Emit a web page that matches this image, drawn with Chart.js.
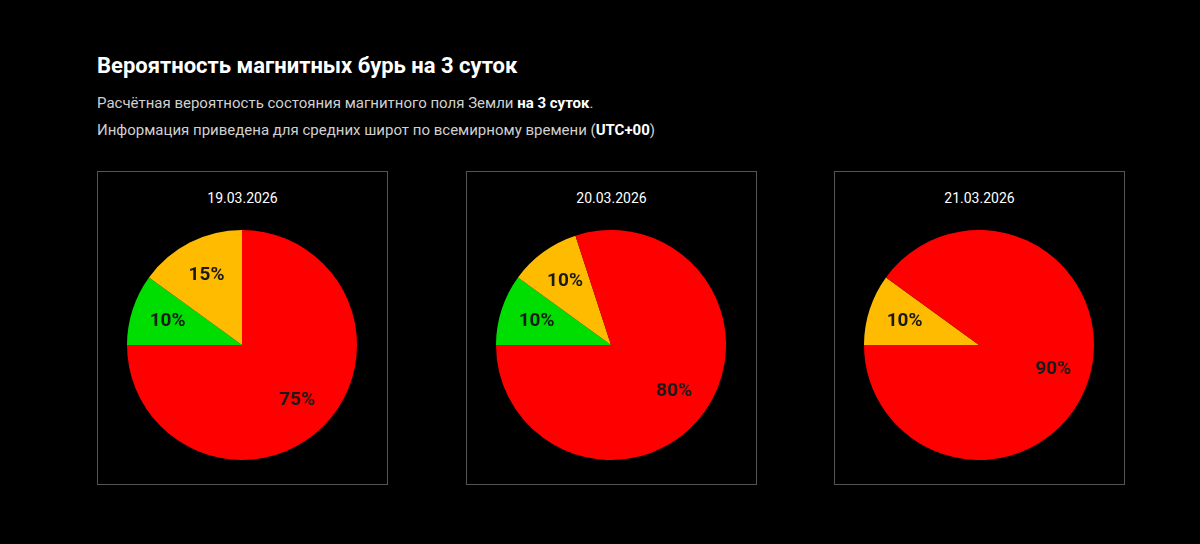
<!DOCTYPE html>
<html><head><meta charset="utf-8">
<script src="https://cdn.jsdelivr.net/npm/chart.js@4"></script>
<style>
body{margin:0;background:#000;width:1200px;height:544px;overflow:hidden;font-family:Roboto,"Noto Sans",sans-serif;color:#fff;position:relative}
h1{position:absolute;left:97px;top:53px;margin:0;font-size:22px;font-weight:bold}
.sub{position:absolute;left:97px;font-size:15px;color:#d0d0d0}
.sub b{color:#fff}
.box{position:absolute;top:171px;width:289px;height:312px;border:1px solid #555}
.box .d{position:absolute;top:18px;width:100%;text-align:center;font-size:14px}
.box canvas{position:absolute;left:29px;top:58px}
</style></head><body>
<h1>Вероятность магнитных бурь на 3 суток</h1>
<div class="sub" style="top:94px">Расчётная вероятность состояния магнитного поля Земли <b>на 3 суток</b>.</div>
<div class="sub" style="top:121px">Информация приведена для средних широт по всемирному времени (<b>UTC+00</b>)</div>
<div class="box" style="left:97px"><div class="d"></div><canvas id="c0" width="230" height="230"></canvas></div>
<div class="box" style="left:466px"><div class="d"></div><canvas id="c1" width="230" height="230"></canvas></div>
<div class="box" style="left:834px"><div class="d"></div><canvas id="c2" width="230" height="230"></canvas></div>
<script>
const dates = ['19.03.2026', '20.03.2026', '21.03.2026'];
const labels = ['Спокойно', 'Возмущение', 'Буря'];
const quiet = [10, 10, 0];
const unsettled = [15, 10, 10];
const storm = [75, 80, 90];
const colors = ['#00dd00', '#ffbb00', '#ff0000'];

// draws the % text inside each slice
const sliceLabels = {
  id: 'sliceLabels',
  afterDatasetsDraw(chart) {
    const ctx = chart.ctx;
    const meta = chart.getDatasetMeta(0);
    ctx.save();
    ctx.font = 'bold 19px Roboto, sans-serif';
    ctx.fillStyle = '#1a1a1a';
    ctx.textAlign = 'center';
    ctx.textBaseline = 'middle';
    meta.data.forEach((arc, i) => {
      const v = chart.data.datasets[0].data[i];
      if (!v) return;
      const p = arc.getProps(['x', 'y', 'startAngle', 'endAngle', 'outerRadius']);
      const a = (p.startAngle + p.endAngle) / 2;
      const r = p.outerRadius * 0.68;
      ctx.fillText(v + '%', p.x + Math.cos(a) * r, p.y + Math.sin(a) * r);
    });
    ctx.restore();
  }
};

dates.forEach((d, i) => {
  document.querySelectorAll('.box .d')[i].textContent = d;
  new Chart(document.getElementById('c' + i), {
    type: 'pie',
    data: {
      labels,
      datasets: [{
        data: [quiet[i], unsettled[i], storm[i]],
        backgroundColor: colors,
        borderWidth: 0
      }]
    },
    options: {
      responsive: false,
      animation: false,
      rotation: 270,
      plugins: { legend: { display: false }, tooltip: { enabled: false } }
    },
    plugins: [sliceLabels]
  });
});
</script>
</body></html>
